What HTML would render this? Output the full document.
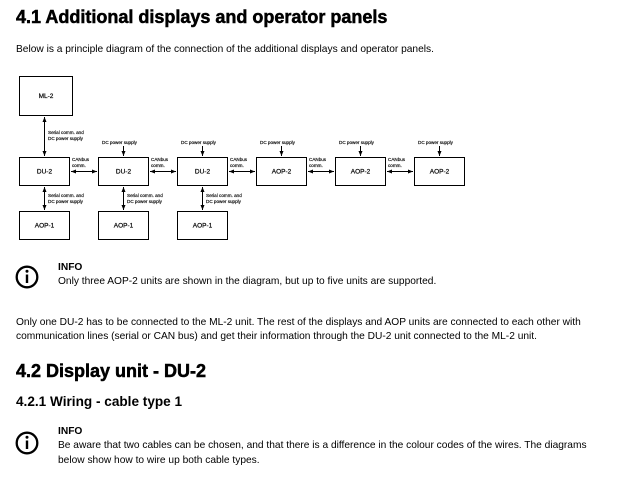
<!DOCTYPE html>
<html><head><meta charset="utf-8"><style>
body{margin:0;width:618px;height:502px;background:#fff;font-family:"Liberation Sans",Arial,sans-serif;color:#000;position:relative;overflow:hidden}
.a{position:absolute;white-space:nowrap;line-height:1}
.h1{font-size:18px;font-weight:bold;-webkit-text-stroke:0.5px #000}
.p{font-size:10.2px}
</style></head><body>
<div class="a h1" style="left:16px;top:8px">4.1 Additional displays and operator panels</div>
<div class="a p" style="left:16px;top:45px">Below is a principle diagram of the connection of the additional displays and operator panels.</div>

<svg class="a" style="left:0;top:0" width="618" height="260" font-family="Liberation Sans,Arial,sans-serif" font-size="5" >
<defs><marker id="ar" markerWidth="6" markerHeight="6" refX="5" refY="3" orient="auto-start-reverse" markerUnits="userSpaceOnUse"><path d="M0,1 L5,3 L0,5z" fill="#000"/></marker></defs>
<g fill="#fff" stroke="#000" stroke-width="1">
<rect x="19.5" y="76.5" width="53" height="39"/>
<rect x="19.5" y="157.5" width="50" height="28"/>
<rect x="98.5" y="157.5" width="50" height="28"/>
<rect x="177.5" y="157.5" width="50" height="28"/>
<rect x="256.5" y="157.5" width="50" height="28"/>
<rect x="335.5" y="157.5" width="50" height="28"/>
<rect x="414.5" y="157.5" width="50" height="28"/>
<rect x="19.5" y="211.5" width="50" height="28"/>
<rect x="98.5" y="211.5" width="50" height="28"/>
<rect x="177.5" y="211.5" width="50" height="28"/>
</g>
<g font-size="6.5" text-anchor="middle" stroke="#000" stroke-width="0.2">
<text x="46" y="98">ML-2</text>
<text x="44.5" y="173.5">DU-2</text><text x="123.5" y="173.5">DU-2</text><text x="202.5" y="173.5">DU-2</text>
<text x="281.5" y="173.5">AOP-2</text><text x="360.5" y="173.5">AOP-2</text><text x="439.5" y="173.5">AOP-2</text>
<text x="44.5" y="227.5">AOP-1</text><text x="123.5" y="227.5">AOP-1</text><text x="202.5" y="227.5">AOP-1</text>
</g>
<g stroke="#000" stroke-width="1" fill="none">
<line x1="44.5" y1="117" x2="44.5" y2="156" marker-start="url(#ar)" marker-end="url(#ar)"/>
<line x1="44.5" y1="187" x2="44.5" y2="210" marker-start="url(#ar)" marker-end="url(#ar)"/>
<line x1="123.5" y1="187" x2="123.5" y2="210" marker-start="url(#ar)" marker-end="url(#ar)"/>
<line x1="202.5" y1="187" x2="202.5" y2="210" marker-start="url(#ar)" marker-end="url(#ar)"/>
<line x1="123.5" y1="146" x2="123.5" y2="156" marker-end="url(#ar)"/>
<line x1="202.5" y1="146" x2="202.5" y2="156" marker-end="url(#ar)"/>
<line x1="281.5" y1="146" x2="281.5" y2="156" marker-end="url(#ar)"/>
<line x1="360.5" y1="146" x2="360.5" y2="156" marker-end="url(#ar)"/>
<line x1="439.5" y1="146" x2="439.5" y2="156" marker-end="url(#ar)"/>
<line x1="71" y1="171.5" x2="97" y2="171.5" marker-start="url(#ar)" marker-end="url(#ar)"/>
<line x1="150" y1="171.5" x2="176" y2="171.5" marker-start="url(#ar)" marker-end="url(#ar)"/>
<line x1="229" y1="171.5" x2="255" y2="171.5" marker-start="url(#ar)" marker-end="url(#ar)"/>
<line x1="308" y1="171.5" x2="334" y2="171.5" marker-start="url(#ar)" marker-end="url(#ar)"/>
<line x1="387" y1="171.5" x2="413" y2="171.5" marker-start="url(#ar)" marker-end="url(#ar)"/>
</g>
<g font-size="4.6" stroke="#000" stroke-width="0.15">
<text x="48" y="134">Serial comm. and</text><text x="48" y="140">DC power supply</text>
<text x="48" y="197">Serial comm. and</text><text x="48" y="203">DC power supply</text>
<text x="127" y="197">Serial comm. and</text><text x="127" y="203">DC power supply</text>
<text x="206" y="197">Serial comm. and</text><text x="206" y="203">DC power supply</text>
<text x="102" y="144">DC power supply</text>
<text x="181" y="144">DC power supply</text>
<text x="260" y="144">DC power supply</text>
<text x="339" y="144">DC power supply</text>
<text x="418" y="144">DC power supply</text>
<text x="72" y="161">CANbus</text><text x="72" y="167">comm.</text>
<text x="151" y="161">CANbus</text><text x="151" y="167">comm.</text>
<text x="230" y="161">CANbus</text><text x="230" y="167">comm.</text>
<text x="309" y="161">CANbus</text><text x="309" y="167">comm.</text>
<text x="388" y="161">CANbus</text><text x="388" y="167">comm.</text>
</g>
</svg>

<svg class="a" style="left:15px;top:265px" width="24" height="24"><circle cx="12" cy="12" r="10.3" fill="none" stroke="#000" stroke-width="2.3"/><rect x="10.8" y="9.5" width="2.4" height="8.5" fill="#000"/><circle cx="12" cy="6.3" r="1.5" fill="#000"/></svg>
<div class="a p" style="left:58px;top:263px;font-weight:bold">INFO</div>
<div class="a p" style="left:58px;top:277px">Only three AOP-2 units are shown in the diagram, but up to five units are supported.</div>

<div class="a p" style="left:16px;top:318px">Only one DU-2 has to be connected to the ML-2 unit. The rest of the displays and AOP units are connected to each other with</div>
<div class="a p" style="left:16px;top:332px">communication lines (serial or CAN bus) and get their information through the DU-2 unit connected to the ML-2 unit.</div>

<div class="a h1" style="left:16px;top:362px">4.2 Display unit - DU-2</div>
<div class="a" style="left:16px;top:395px;font-size:13.6px;font-weight:bold">4.2.1 Wiring - cable type 1</div>

<svg class="a" style="left:15px;top:431px" width="24" height="24"><circle cx="12" cy="12" r="10.3" fill="none" stroke="#000" stroke-width="2.3"/><rect x="10.8" y="9.5" width="2.4" height="8.5" fill="#000"/><circle cx="12" cy="6.3" r="1.5" fill="#000"/></svg>
<div class="a p" style="left:58px;top:427px;font-weight:bold">INFO</div>
<div class="a p" style="left:58px;top:441px">Be aware that two cables can be chosen, and that there is a difference in the colour codes of the wires. The diagrams</div>
<div class="a p" style="left:58px;top:456px">below show how to wire up both cable types.</div>
</body></html>
